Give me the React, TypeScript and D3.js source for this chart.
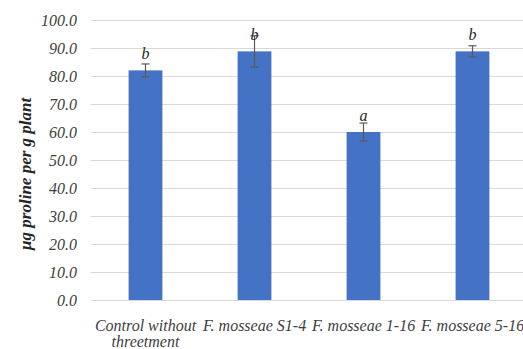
import React from 'react';
import * as d3 from 'd3';

const categories = ['Control without threetment', 'F. mosseae S1-4', 'F. mosseae 1-16', 'F. mosseae 5-16'];
const prolineValues = [82.0, 88.8, 60.0, 88.8];
const errorValues = [2.3, 5.6, 3.2, 2.0];
const letters = ['b', 'b', 'a', 'b'];
const yTicks = [0, 10, 20, 30, 40, 50, 60, 70, 80, 90, 100];

const width = 523;
const height = 349;
const margin = { top: 20, right: -4, bottom: 49, left: 91 };
const serif = 'Liberation Serif';
const fontSize = 16;

// split a label into lines that fit the category step
function wrapLabel(label: string, maxWidth: number): string[] {
    const ctx = document.createElement('canvas').getContext('2d');
    ctx.font = `italic ${fontSize}px "${serif}"`;
    const lines: string[] = [];
    let line: string[] = [];
    label.split(' ').forEach(w => {
        const test = [...line, w].join(' ');
        if (line.length > 0 && ctx.measureText(test).width > maxWidth) {
            lines.push(line.join(' '));
            line = [w];
        } else {
            line.push(w);
        }
    });
    lines.push(line.join(' '));
    return lines;
}

const App = () => {
    const innerWidth = width - margin.left - margin.right;
    const innerHeight = height - margin.top - margin.bottom;

    const xScale = d3.scaleBand()
        .domain(categories)
        .range([0, innerWidth])
        .paddingInner(0.69)
        .paddingOuter(0.345);

    const yScale = d3.scaleLinear()
        .domain([0, 100])
        .range([innerHeight, 0]);

    const cx = (i: number) => xScale(categories[i]) + xScale.bandwidth() / 2;

    return (
        <svg width={width} height={height}
            style={{ position: 'absolute', left: 0, top: 0, background: '#fff' }}>
            <g transform={`translate(${margin.left}, ${margin.top})`}>
                {/* gridlines */}
                {yTicks.map(t => (
                    <line key={t} x1={0} x2={innerWidth} y1={yScale(t) + 0.5} y2={yScale(t) + 0.5}
                        stroke="#d9d9d9" strokeWidth={1} />
                ))}
                {/* y tick labels */}
                {yTicks.map(t => (
                    <text key={t} x={-14} y={yScale(t)} dy="0.35em" textAnchor="end"
                        fontFamily={serif} fontStyle="italic" fontSize={fontSize} fill="#404040">
                        {t.toFixed(1)}
                    </text>
                ))}
                {/* bars */}
                {prolineValues.map((v, i) => (
                    <rect key={i} x={xScale(categories[i])} y={yScale(v)} width={xScale.bandwidth()}
                        height={innerHeight - yScale(v)} fill="#4472c4" />
                ))}
                {/* error bars */}
                <g stroke="#595959" strokeWidth={1.2}>
                    {prolineValues.map((v, i) => {
                        const top = yScale(v + errorValues[i]);
                        const bottom = yScale(v - errorValues[i]);
                        return (
                            <g key={i}>
                                <line x1={cx(i)} x2={cx(i)} y1={top} y2={bottom} />
                                <line x1={cx(i) - 4} x2={cx(i) + 4} y1={top} y2={top} />
                                <line x1={cx(i) - 4} x2={cx(i) + 4} y1={bottom} y2={bottom} />
                            </g>
                        );
                    })}
                </g>
                {/* significance letters */}
                {letters.map((l, i) => (
                    <text key={i} x={cx(i)} y={yScale(prolineValues[i]) - 11.5} textAnchor="middle"
                        fontFamily={serif} fontStyle="italic" fontSize={fontSize} fill="#262626">
                        {l}
                    </text>
                ))}
                {/* category labels */}
                {categories.map((c, i) => (
                    <text key={c} x={cx(i)} y={innerHeight + 30.5} textAnchor="middle"
                        fontFamily={serif} fontStyle="italic" fontSize={fontSize} fill="#404040">
                        {wrapLabel(c, xScale.step()).map((ln, j) => (
                            <tspan key={j} x={cx(i)} dy={j === 0 ? 0 : 16.5}>{ln}</tspan>
                        ))}
                    </text>
                ))}
            </g>
            {/* y axis title */}
            <text transform={`translate(31, 174) rotate(-90)`} textAnchor="middle"
                fontFamily={serif} fontStyle="italic" fontWeight="bold" fontSize={17} fill="#262626">
                µg proline per g plant
            </text>
        </svg>
    );
};

export default App;
